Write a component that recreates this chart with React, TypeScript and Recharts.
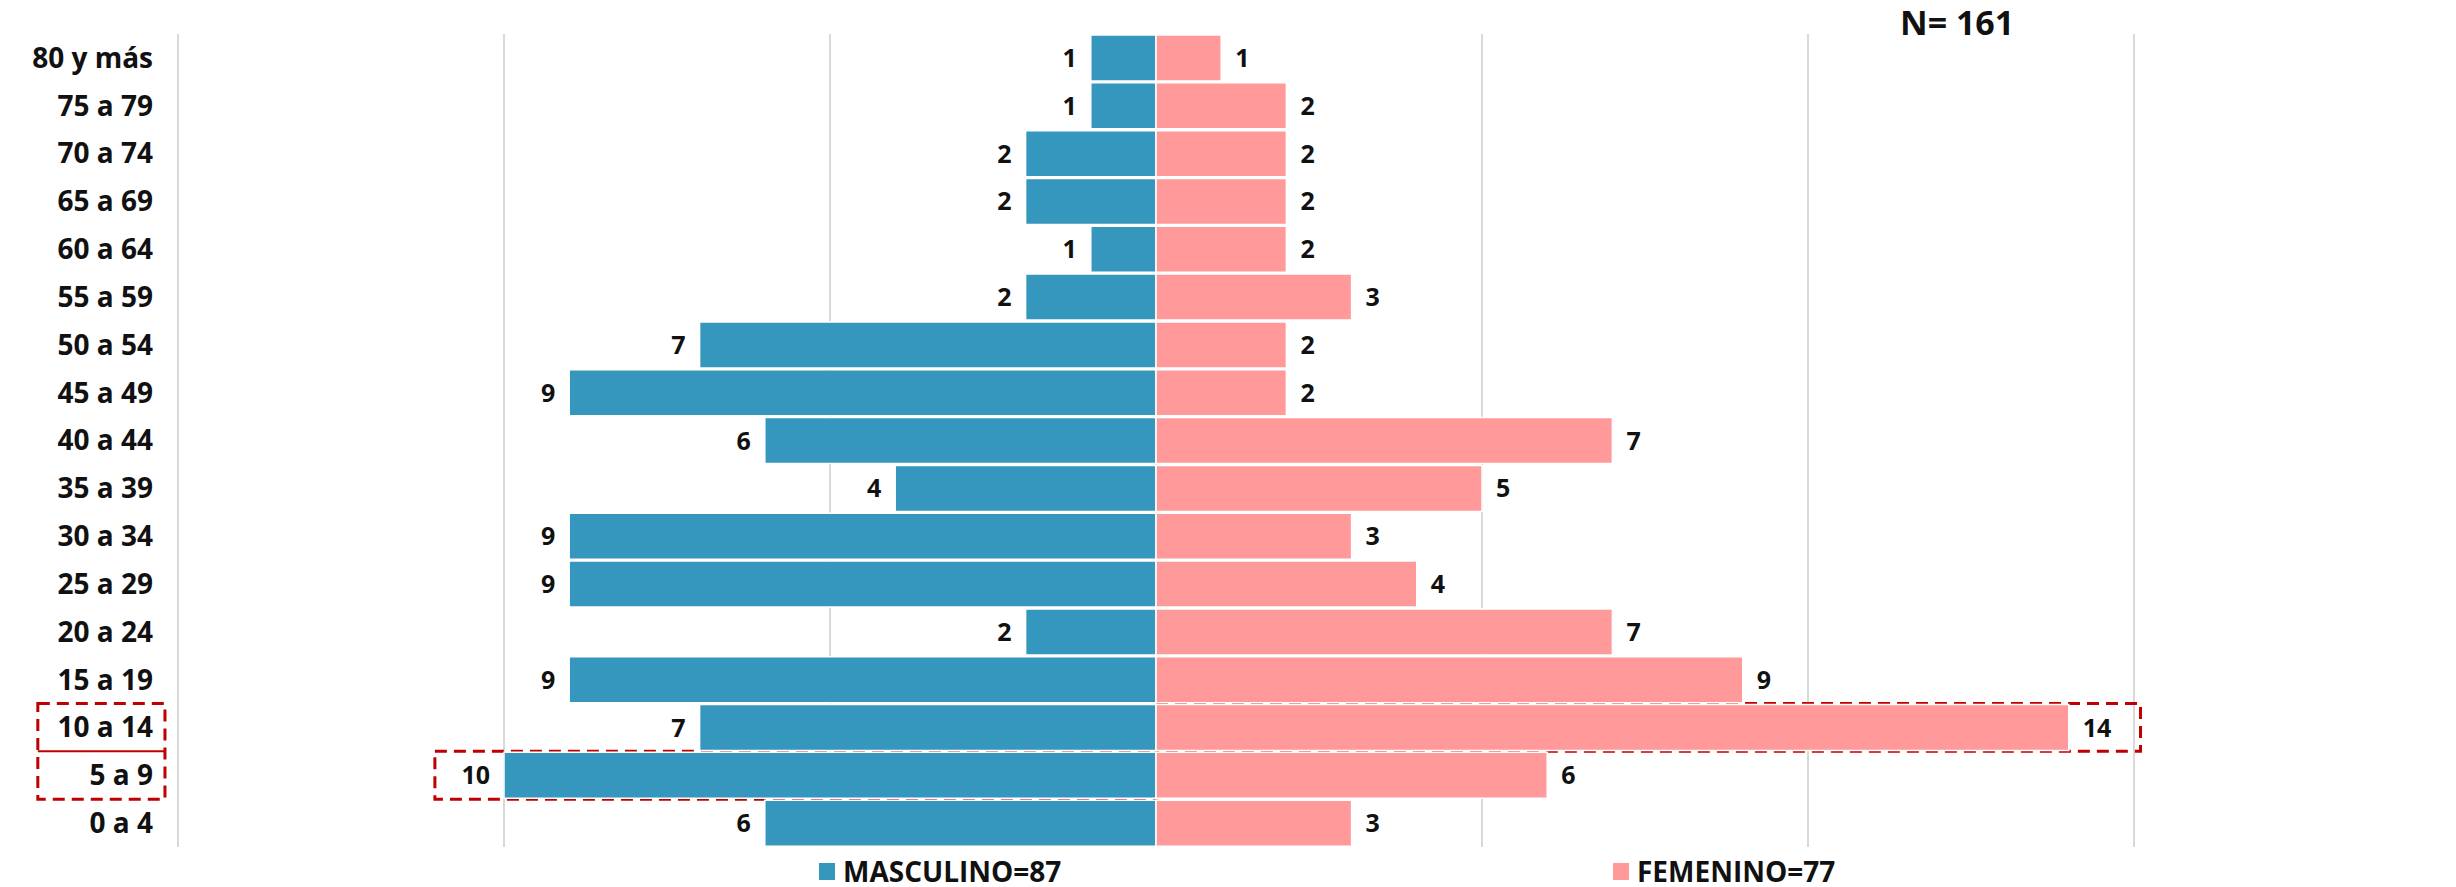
import React from "react";
import {
  Bar,
  BarChart,
  CartesianGrid,
  LabelList,
  Legend,
  ReferenceArea,
  ReferenceLine,
  XAxis,
  YAxis,
} from "recharts";

const AGE_GROUPS = [
  "80 y más", "75 a 79", "70 a 74", "65 a 69", "60 a 64", "55 a 59",
  "50 a 54", "45 a 49", "40 a 44", "35 a 39", "30 a 34", "25 a 29",
  "20 a 24", "15 a 19", "10 a 14", "5 a 9", "0 a 4",
];
const MALE = [1, 1, 2, 2, 1, 2, 7, 9, 6, 4, 9, 9, 2, 9, 7, 10, 6];
const FEMALE = [1, 2, 2, 2, 2, 3, 2, 2, 7, 5, 3, 4, 7, 9, 14, 6, 3];
const X_TICKS = [-15, -10, -5, 0, 5, 10, 15];

const TOTAL_LABEL = "N= 161";
const MALE_LABEL = "MASCULINO=87";
const FEMALE_LABEL = "FEMENINO=77";

const MALE_COLOR = "#3596BE";
const FEMALE_COLOR = "#FF999A";
const MARK_RED = "#C00000";
const FONT = "'Open Sans', sans-serif";

const W = 2456;
const H = 887;

// male goes left of the axis, so it is stored negative
const rows = AGE_GROUPS.map((age, i) => ({ age, male: -MALE[i], female: FEMALE[i] }));

function sideLabel(side: "left" | "right") {
  return (props: any) => {
    const vb = props.viewBox ?? props;
    const { x, y, width, height } = vb;
    const value = props.value;
    if (value == null) return null;
    const left = Math.min(x, x + width);
    const right = Math.max(x, x + width);
    const tx = side === "left" ? left - 14 : right + 14;
    return (
      <text
        x={tx}
        y={y + height / 2}
        dy="0.36em"
        textAnchor={side === "left" ? "end" : "start"}
        fontFamily={FONT}
        fontSize={25}
        fontWeight={700}
        fill="#111"
      >
        {Math.abs(Number(value))}
      </text>
    );
  };
}

function LegendBox() {
  const item = (left: number, color: string, label: string) => (
    <div
      style={{
        position: "absolute",
        left,
        top: 7,
        display: "flex",
        alignItems: "center",
        gap: 8,
        fontFamily: FONT,
        fontWeight: 700,
        fontSize: 28,
        color: "#111",
        lineHeight: "34px",
      }}
    >
      <span style={{ display: "inline-block", width: 16, height: 17, background: color }} />
      {label}
    </div>
  );
  return (
    <div style={{ position: "relative", height: 34, width: W }}>
      {item(819, MALE_COLOR, MALE_LABEL)}
      {item(1613, FEMALE_COLOR, FEMALE_LABEL)}
    </div>
  );
}

export default function App() {
  return (
    <div style={{ position: "absolute", left: 0, top: 0, width: W, height: H, background: "#fff" }}>
      <div
        style={{
          position: "absolute",
          left: 1900,
          top: 0,
          fontFamily: FONT,
          fontWeight: 700,
          fontSize: 34,
          lineHeight: "44px",
          color: "#111",
        }}
      >
        {TOTAL_LABEL}
      </div>
      <BarChart
        width={W}
        height={H}
        data={rows}
        layout="vertical"
        stackOffset="sign"
        barCategoryGap={1}
        margin={{ top: 34, right: 322, bottom: 6, left: 18 }}
      >
        <CartesianGrid horizontal={false} stroke="#D9D9D9" strokeWidth={2} />
        <XAxis type="number" hide domain={[-15, 15]} ticks={X_TICKS} allowDataOverflow />
        <YAxis
          type="category"
          dataKey="age"
          width={160}
          axisLine={false}
          tickLine={false}
          tickSize={0}
          tickMargin={25}
          interval={0}
          tick={{ fontFamily: FONT, fontSize: 28, fontWeight: 700, fill: "#111" }}
        />
        <Legend verticalAlign="bottom" content={<LegendBox />} wrapperStyle={{ left: 0, width: W }} />
        <Bar
          dataKey="male"
          name={MALE_LABEL}
          stackId="p"
          fill={MALE_COLOR}
          stroke="#fff"
          strokeWidth={1.5}
          isAnimationActive={false}
        >
          <LabelList dataKey="male" content={sideLabel("left")} />
        </Bar>
        <Bar
          dataKey="female"
          name={FEMALE_LABEL}
          stackId="p"
          fill={FEMALE_COLOR}
          stroke="#fff"
          strokeWidth={1.5}
          isAnimationActive={false}
        >
          <LabelList dataKey="female" content={sideLabel("right")} />
        </Bar>
        <ReferenceArea
          x1={-11.06}
          x2={0}
          y1="5 a 9"
          y2="5 a 9"
          fill="none"
          stroke={MARK_RED}
          strokeWidth={3}
          strokeDasharray="12 7"
          ifOverflow="visible"
        />
        <ReferenceArea
          x1={0}
          x2={15.1}
          y1="10 a 14"
          y2="10 a 14"
          fill="none"
          stroke={MARK_RED}
          strokeWidth={3}
          strokeDasharray="12 7"
          ifOverflow="visible"
        />
        <ReferenceArea
          x1={-17.15}
          x2={-15.2}
          y1="10 a 14"
          y2="5 a 9"
          fill="none"
          stroke={MARK_RED}
          strokeWidth={3}
          strokeDasharray="12 7"
          ifOverflow="visible"
        />
        <ReferenceLine
          segment={[
            { x: -17.15, y: "5 a 9" },
            { x: -15.2, y: "5 a 9" },
          ]}
          position="start"
          stroke={MARK_RED}
          strokeWidth={2}
          ifOverflow="visible"
        />
      </BarChart>
    </div>
  );
}
